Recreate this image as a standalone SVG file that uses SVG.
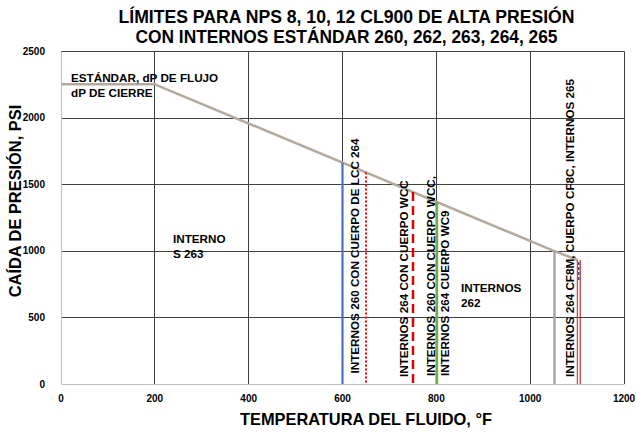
<svg xmlns="http://www.w3.org/2000/svg" width="636" height="432" viewBox="0 0 636 432">
<style>
text{font-family:"Liberation Sans",Arial,sans-serif;font-weight:bold;fill:#000}
.title{font-size:18.6px;text-anchor:middle}
.axt{font-size:16.4px;text-anchor:middle}
.tick{font-size:10px}
.ty{text-anchor:end}
.tx{text-anchor:middle}
.lbl{font-size:11.7px}
.grid{stroke:#404040;stroke-width:1;fill:none}
.axis{stroke:#BFBFBF;stroke-width:1;fill:none}
</style>
<rect x="0" y="0" width="636" height="432" fill="#fff"/>
<g id="title">
<text class="title" x="346.5" y="23" textLength="456" lengthAdjust="spacingAndGlyphs">LÍMITES PARA NPS 8, 10, 12 CL900 DE ALTA PRESIÓN</text>
<text class="title" x="346.5" y="43" textLength="422" lengthAdjust="spacingAndGlyphs">CON INTERNOS ESTÁNDAR 260, 262, 263, 264, 265</text>
</g>
<g id="grid">
<path class="grid" d="M61 51.5H624.5M61 118.5H624.5M61 184.5H624.5M61 251.5H624.5M61 317.5H624.5"/>
<path class="grid" d="M154.5 51.5V384M248.5 51.5V384M342.5 51.5V384M436.5 51.5V384M530.5 51.5V384M624.5 51.5V384"/>
<path class="axis" d="M61.5 51.5V384.5H624.5"/>
</g>
<g id="y-ticks" class="tick">
<text class="tick ty" x="45" y="54.5">2500</text>
<text class="tick ty" x="45" y="121">2000</text>
<text class="tick ty" x="45" y="187.5">1500</text>
<text class="tick ty" x="45" y="254">1000</text>
<text class="tick ty" x="45" y="320.5">500</text>
<text class="tick ty" x="45" y="387.5">0</text>
</g>
<g id="x-ticks">
<text class="tick tx" x="61" y="402">0</text>
<text class="tick tx" x="154.8" y="402">200</text>
<text class="tick tx" x="248.7" y="402">400</text>
<text class="tick tx" x="342.5" y="402">600</text>
<text class="tick tx" x="436.4" y="402">800</text>
<text class="tick tx" x="530.2" y="402">1000</text>
<text class="tick tx" x="624" y="402">1200</text>
</g>
<g id="axis-titles">
<text class="axt" x="366" y="425">TEMPERATURA DEL FLUIDO, °F</text>
<text class="axt" transform="translate(20.5,201) rotate(-90)" x="0" y="0">CAÍDA DE PRESIÓN, PSI</text>
</g>
<g id="connectors" fill="none">
<polyline points="61,84.3 154.8,84.3 553.7,250.8 577.5,260" stroke="#B4A99E" stroke-width="2.5" stroke-linejoin="round"/>
<line x1="342.5" y1="162.6" x2="342.5" y2="384" stroke="#4472C4" stroke-width="2.2"/>
<line x1="366" y1="172.5" x2="366" y2="384" stroke="#FF0000" stroke-width="2" stroke-dasharray="2 2"/>
<line x1="413" y1="192" x2="413" y2="388" stroke="#E00000" stroke-width="2.5" stroke-dasharray="9 5"/>
<line x1="436.8" y1="202" x2="436.8" y2="384" stroke="#70AD47" stroke-width="2.8"/>
<line x1="554.5" y1="250.8" x2="554.5" y2="384" stroke="#A6A6A6" stroke-width="2.5"/>
<line x1="577.3" y1="260" x2="577.3" y2="384" stroke="#FF0000" stroke-width="1"/>
<line x1="580.2" y1="260" x2="580.2" y2="384" stroke="#C00000" stroke-width="1"/>
<line x1="578.8" y1="262" x2="578.8" y2="280" stroke="#2F4F8F" stroke-width="1.5" stroke-dasharray="3 2"/>
</g>
<g id="label-estandar">
<text class="lbl" x="71" y="81.5">ESTÁNDAR, dP DE FLUJO</text>
<text class="lbl" x="71" y="96.5">dP DE CIERRE</text>
</g>
<g id="label-263">
<text class="lbl" x="173" y="243">INTERNO</text>
<text class="lbl" x="173" y="257.5">S 263</text>
</g>
<g id="label-262">
<text class="lbl" x="461" y="292">INTERNOS</text>
<text class="lbl" x="461" y="306.5">262</text>
</g>
<g id="label-260-lcc">
<text class="lbl" transform="translate(358.5,373.5) rotate(-90)">INTERNOS 260 CON CUERPO DE LCC 264</text>
</g>
<g id="label-264-wcc">
<text class="lbl" transform="translate(407.5,377) rotate(-90)">INTERNOS 264 CON CUERPO WCC</text>
</g>
<g id="label-260-wcc">
<text class="lbl" transform="translate(434.5,376) rotate(-90)">INTERNOS 260 CON CUERPO WCC,</text>
</g>
<g id="label-264-wc9">
<text class="lbl" transform="translate(448.5,376) rotate(-90)">INTERNOS 264 CUERPO WC9</text>
</g>
<g id="label-265">
<text class="lbl" transform="translate(573.5,377) rotate(-90)">INTERNOS 264 CF8M, CUERPO CF8C, INTERNOS 265</text>
</g>
</svg>
